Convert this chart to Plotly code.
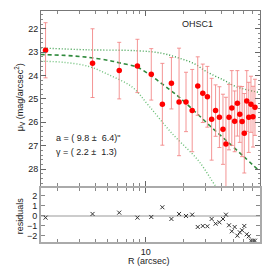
import plotly.graph_objects as go
from plotly.subplots import make_subplots

# ---- data ----
radius = [1.60, 3.78, 6.16, 8.59, 11.07, 13.56, 16.0, 18.4, 20.9, 23.4,
          25.9, 28.4, 30.9, 33.4, 35.9, 38.5, 41.1, 43.4, 45.9, 48.3,
          50.9, 53.5, 55.9, 58.3, 60.7, 63.5, 65.9, 68.6, 71.2, 73.8]
mu_v = [22.92, 23.47, 23.79, 23.59, 23.95, 25.23, 24.33, 25.13, 25.13, 25.50,
        24.45, 24.76, 24.91, 25.87, 25.50, 25.78, 26.30, 26.93, 25.78, 25.39,
        25.96, 25.19, 25.66, 25.97, 26.47, 25.09, 25.79, 25.23, 25.76, 25.36]
mu_err = [1.18, 1.47, 1.21, 1.14, 1.10, 1.75, 1.10, 2.30, 1.27, 1.76,
          1.25, 1.25, 1.30, 1.75, 1.10, 1.30, 1.50, 2.00, 1.40, 1.60,
          1.30, 1.40, 1.20, 1.50, 1.70, 1.30, 1.50, 1.20, 1.30, 1.20]
residuals = [-0.17, 0.20, 0.33, -0.17, -0.10, 0.87, -0.30, 0.20, 0.00, 0.13,
             -1.10, -1.00, -1.03, -0.30, -0.77, -0.63, -0.30, 0.13, -0.93, -1.53,
             -1.10, -1.97, -1.63, -1.43, -1.00, -1.83, -2.03, -2.47, -2.47, -2.47]

model_r = [1.46, 2.28, 3.45, 5.14, 6.31, 8.54, 11.07, 13.5, 15.8, 18.3,
           24.8, 32.5, 44.0, 59.4, 80.5]
model_mu = [23.10, 23.14, 23.22, 23.36, 23.47, 23.64, 24.02, 24.36, 24.64, 24.91,
            25.56, 26.16, 26.80, 27.44, 28.10]
upper_r = [1.46, 3.45, 8.54, 13.5, 18.3, 24.0, 30.5, 41.4, 52.6, 80.5]
upper_mu = [22.82, 22.90, 22.94, 23.05, 23.25, 23.48, 23.84, 24.19, 24.48, 24.73]
lower_r = [1.46, 2.28, 3.57, 5.14, 7.84, 10.6, 16.2, 26.3, 35.8, 41.4]
lower_mu = [23.39, 23.44, 23.62, 23.98, 24.50, 25.30, 26.48, 27.65, 28.72, 29.15]

mu_ticks = [22, 23, 24, 25, 26, 27, 28]
res_ticks = [-2, -1, 0, 1, 2]
res_ticktext = ["\u22122", "\u22121", "0", "1", "2"]
x_major = [10]
x_minor = [2, 3, 4, 5, 6, 7, 8, 9, 20, 30, 40, 50, 60, 70, 80]

FONT = "Liberation Sans, Arial, sans-serif"

fig = make_subplots(rows=2, cols=1, shared_xaxes=True, vertical_spacing=0.0)

fig.add_trace(go.Scatter(x=upper_r, y=upper_mu, mode="lines",
                         line=dict(color="#3c9e4c", width=1.4, dash="1px,2px", shape="spline"),
                         hoverinfo="skip"), row=1, col=1)
fig.add_trace(go.Scatter(x=lower_r, y=lower_mu, mode="lines",
                         line=dict(color="#6cbf78", width=1.4, dash="1px,2px", shape="spline"),
                         hoverinfo="skip"), row=1, col=1)
fig.add_trace(go.Scatter(x=model_r, y=model_mu, mode="lines",
                         line=dict(color="#2f8a3c", width=1.6, dash="4px,3px", shape="spline"),
                         hoverinfo="skip"), row=1, col=1)
fig.add_trace(go.Scatter(x=radius, y=mu_v, mode="markers",
                         marker=dict(color="#ff0000", size=5.5, line=dict(width=0)),
                         error_y=dict(type="data", array=mu_err, color="rgba(242,130,130,0.85)",
                                      thickness=1, width=2)),
              row=1, col=1)
fig.add_trace(go.Scatter(x=radius, y=residuals, mode="markers",
                         marker=dict(symbol="x-thin-open", size=4, color="#333",
                                     line=dict(color="#333", width=1))),
              row=2, col=1)

axis_common = dict(showgrid=False, ticks="inside", mirror="allticks", showline=True,
                   tickfont=dict(family=FONT, size=9, color="#222"))

fig.update_xaxes(type="log", range=[0.168, 1.908], tickvals=x_major, ticktext=["10"],
                 ticklen=5, tickcolor="#666", linecolor="#777", linewidth=1,
                 minor=dict(tickvals=x_minor, ticklen=3, tickcolor="#888", ticks="inside"),
                 **axis_common)
fig.update_xaxes(showticklabels=False, row=1, col=1)
fig.update_xaxes(showticklabels=True, row=2, col=1, linecolor="#aaa", linewidth=2)

fig.update_yaxes(range=[28.74, 21.24], tickvals=mu_ticks, ticklen=5, tickcolor="#666",
                 linecolor="#777", linewidth=1,
                 minor=dict(dtick=0.2, ticklen=2, tickcolor="#888", ticks="inside"),
                 row=1, col=1, **axis_common)
fig.update_yaxes(range=[-2.6, 2.75], tickvals=res_ticks, ticktext=res_ticktext, ticklen=4,
                 tickcolor="#888", linecolor="#aaa", linewidth=2,
                 zeroline=True, zerolinecolor="#cccccc", zerolinewidth=2,
                 row=2, col=1, **axis_common)

fig.update_layout(
    width=270, height=270, showlegend=False,
    margin=dict(l=41, r=8, t=11, b=28),
    paper_bgcolor="white", plot_bgcolor="white",
    font=dict(family=FONT, size=9, color="#222"),
)
fig.layout.yaxis.domain = [0.241, 1.0]
fig.layout.yaxis2.domain = [0.0, 0.232]

def px2paper(px, py):
    return (px - 41) / 221.0, (242 - py) / 231.0

annots = [
    ("OHSC1", 199, 24, 0, "center"),
    ("a = ( 9.8 \u00b1  6.4)\"", 54, 138, 0, "left"),
    ("\u03b3 = ( 2.2 \u00b1  1.3)", 54, 152, 0, "left"),
    ("\u03bc<sub>V</sub> (mag/arcsec<sup>2</sup>)", 19, 97, -90, "center"),
    ("residuals", 20, 216, -90, "center"),
    ("R (arcsec)", 150, 261, 0, "center"),
]
for text, px, py, ang, align in annots:
    xp, yp = px2paper(px, py)
    fig.add_annotation(text=text, x=xp, y=yp, xref="paper", yref="paper",
                       showarrow=False, textangle=ang,
                       xanchor="left" if align == "left" else "center", yanchor="middle",
                       font=dict(family=FONT, size=9, color="#222"))

fig.write_html("out.html", config={"displayModeBar": False, "staticPlot": True},
               post_script="document.body.style.margin='0';document.body.style.overflow='hidden';")
